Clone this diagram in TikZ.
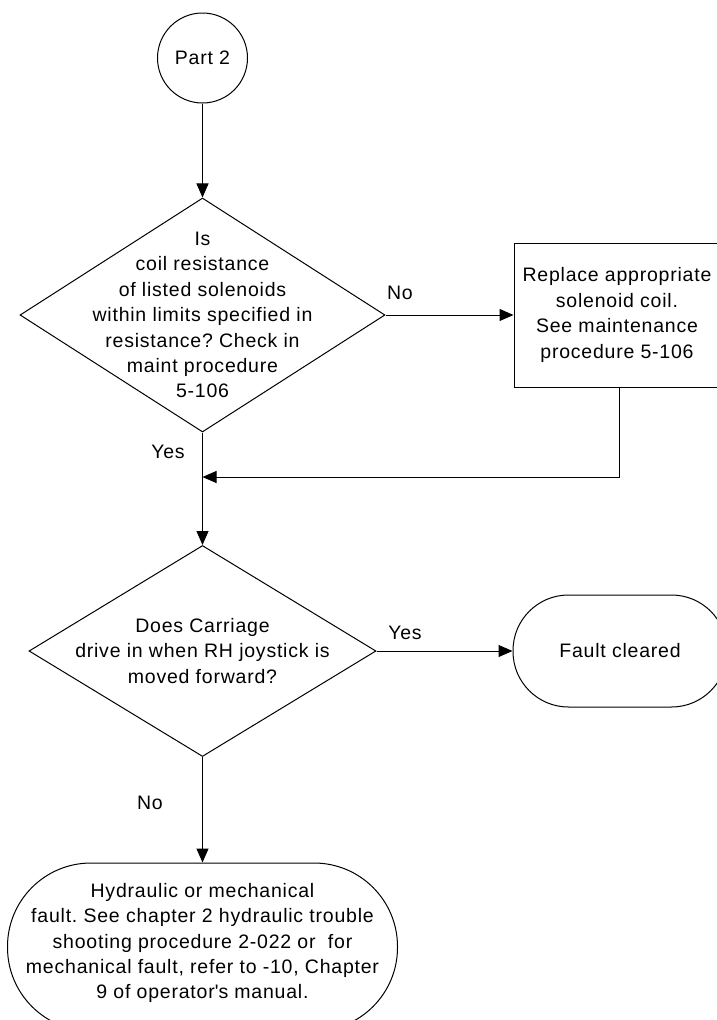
\documentclass[tikz,border=0pt]{standalone}
\usepackage{fontspec}
\setmainfont[LetterSpace=4]{Liberation Sans}
\usetikzlibrary{shapes.geometric,arrows.meta}
\frenchspacing

\begin{document}
\begin{tikzpicture}[x=1pt,y=-1pt,line width=1pt,
  every node/.style={font=\fontsize{19.5}{25.4}\selectfont},
  flow/.style={-{Triangle[length=14pt,width=12pt]}},
  decision/.style={draw,diamond,inner sep=0pt},
  process/.style={draw,rectangle,inner sep=0pt,minimum width=210pt,minimum height=144pt},
  terminal/.style={draw,rectangle,inner sep=0pt},
  txt/.style={align=center,inner sep=0pt}]
\useasboundingbox (0,0) rectangle (717,1020);

\node[draw,circle,inner sep=0pt,minimum size=90pt] (start) at (202.5,58) {Part 2};

\node[decision,minimum width=365pt,minimum height=234pt] (q1) at (202.5,315) {};
\node[txt] (q1text) at (q1) {Is\\coil resistance\\of listed solenoids\\within limits specified in\\resistance? Check in\\maint procedure\\5-106};

\node[process] (fix) at (619,315) {};
\node[txt] (fixtext) at (617,315) {Replace appropriate\\solenoid coil.\\See maintenance\\procedure 5-106};

\node[decision,minimum width=347pt,minimum height=211pt] (q2) at (202.5,651) {};
\node[txt] (q2text) at (q2) {Does Carriage\\drive in when RH joystick is\\moved forward?};

\node[terminal,minimum width=214pt,minimum height=112pt,rounded corners=55.5pt] (done) at (620,651) {Fault cleared};

\node[terminal,minimum width=390pt,minimum height=168pt,rounded corners=83.5pt] (hyd) at (202.5,947) {};
\node[txt] (hydtext) at (202.5,943) {Hydraulic or mechanical\\fault. See chapter 2 hydraulic trouble\\shooting procedure 2-022 or~ for\\mechanical fault, refer to -10, Chapter\\9 of operator\textquotesingle s manual.};

\coordinate (join) at (202.5,477);

\draw[flow] (start) -- (q1);
\draw[flow] (q1.east) -- (fix.west);
\draw[flow] (fix.south) |- (join);
\draw[flow] (q1.south) -- (q2.north);
\draw[flow] (q2.east) -- (done.west);
\draw[flow] (q2.south) -- (hyd.north);

\node (no1) at (400,293) {No};
\node (yes1) at (168,452) {Yes};
\node (yes2) at (405,633) {Yes};
\node (no2) at (150,803) {No};
\end{tikzpicture}
\end{document}
